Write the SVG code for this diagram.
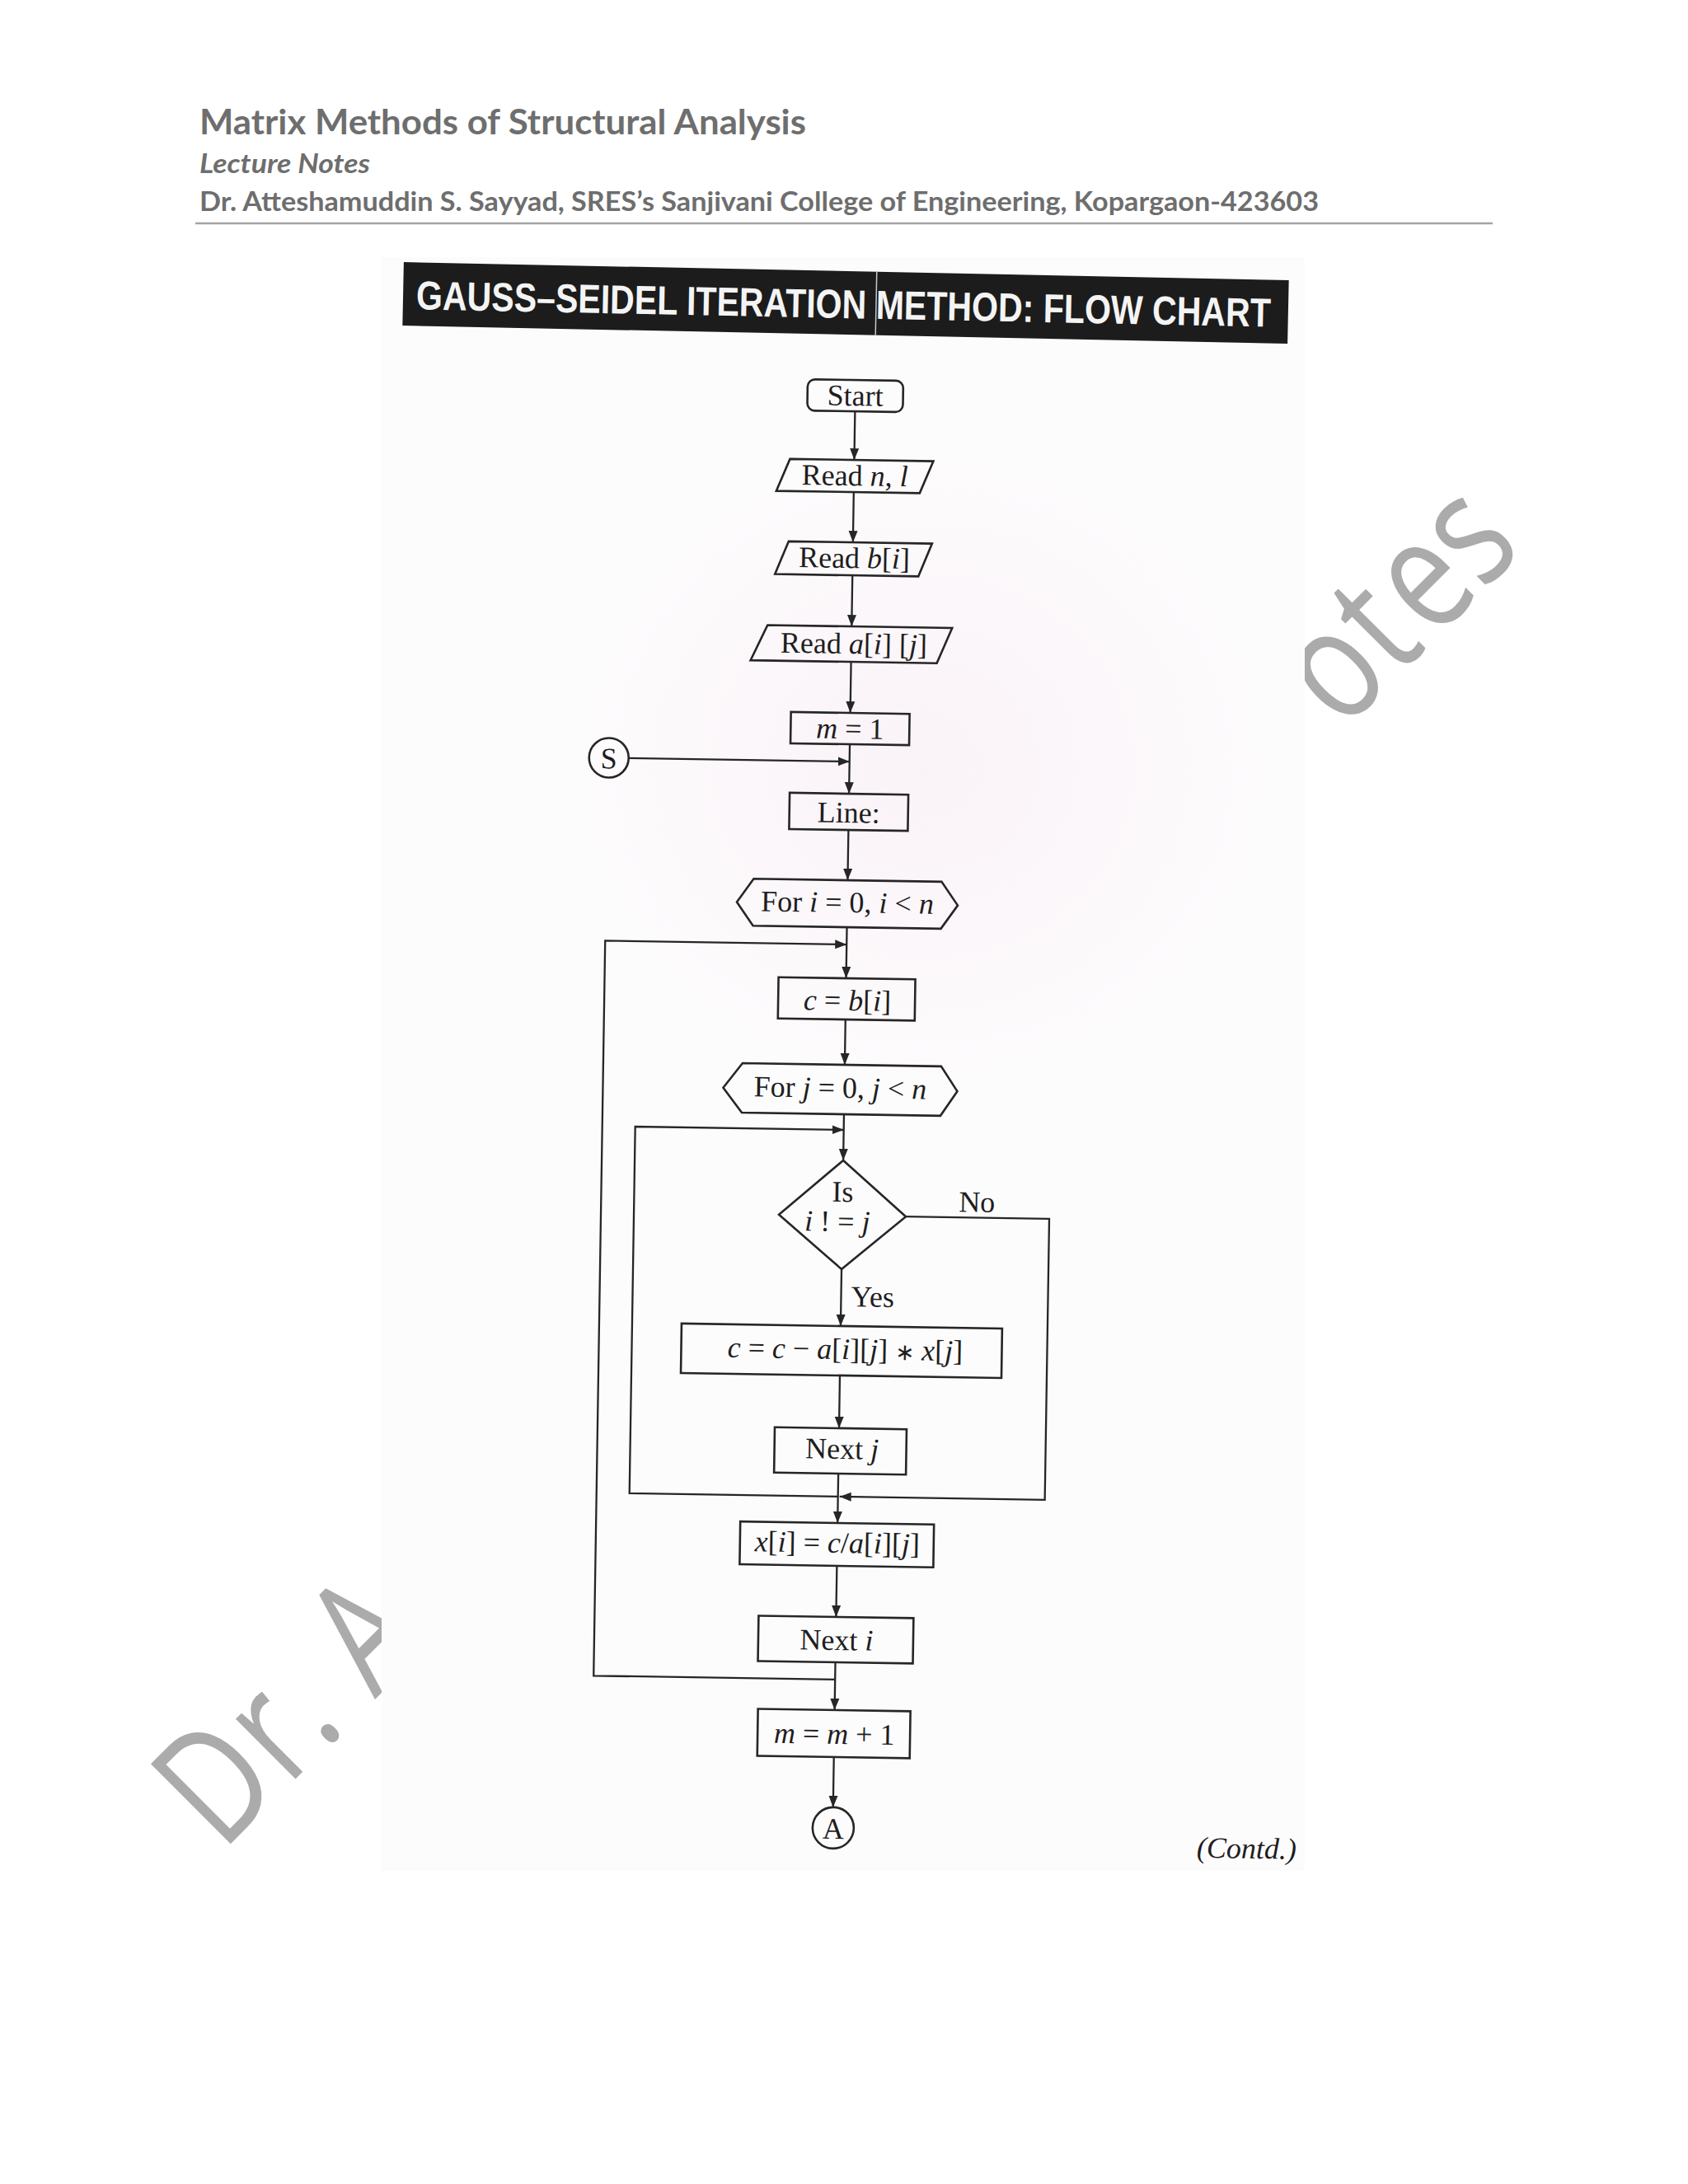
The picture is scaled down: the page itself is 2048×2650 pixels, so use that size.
<svg xmlns="http://www.w3.org/2000/svg" width="2048" height="2650" viewBox="0 0 2048 2650">
<defs>
<style>
.hd{font-family:Lato,"Open Sans","Liberation Sans",sans-serif;font-weight:bold;fill:#6e6e6e}
.wm{font-family:"Open Sans","Liberation Sans",sans-serif;font-size:192px;fill:#ababab}
.n{fill:none;stroke:#262626;stroke-width:2.6}
.c{fill:none;stroke:#262626;stroke-width:2.3}
.a{marker-end:url(#ah)}
.t{font-family:"Liberation Serif","Times New Roman",serif;font-size:36px;fill:#1e1e1e;text-anchor:middle}
.s{text-anchor:start}
.i{font-style:italic}
</style>
<marker id="ah" markerUnits="userSpaceOnUse" markerWidth="15" markerHeight="12" refX="14" refY="6" orient="auto">
<path d="M0,0.5 L14,6 L0,11.5 Z" fill="#262626"/>
</marker>
<radialGradient id="pk" cx="0.5" cy="0.5" r="0.5">
<stop offset="0" stop-color="#f8ecf3" stop-opacity="0.6"/>
<stop offset="1" stop-color="#f8ecf3" stop-opacity="0"/>
</radialGradient>
</defs>
<rect x="0" y="0" width="2048" height="2650" fill="#ffffff"/>

<g id="header">
<text class="hd" x="242" y="163" font-size="42" textLength="736" lengthAdjust="spacingAndGlyphs">Matrix Methods of Structural Analysis</text>
<text class="hd" x="242" y="210" font-size="32" font-style="italic" textLength="207" lengthAdjust="spacingAndGlyphs">Lecture Notes</text>
<text class="hd" x="242" y="256" font-size="33" textLength="1358" lengthAdjust="spacingAndGlyphs">Dr. Atteshamuddin S. Sayyad, SRES’s Sanjivani College of Engineering, Kopargaon-423603</text>
<line x1="237" y1="271" x2="1811" y2="271" stroke="#a3a3a3" stroke-width="2.5"/>
</g>

<g id="watermark">
<text class="wm" transform="translate(269.6,2247.4) rotate(-45) scale(0.78,1)" x="0 145 224 262 336">Dr. A</text>
<text class="wm" transform="translate(1629,888) rotate(-45) scale(0.78,1)" x="0 119 201 309">otes</text>
</g>

<g id="scan">
<rect x="463" y="312" width="1120" height="1958" fill="#fdfcfd"/>
<ellipse cx="1120" cy="930" rx="440" ry="400" fill="url(#pk)"/>
</g>

<g id="banner" transform="rotate(1.17 1026 367.5)">
<rect x="489" y="329" width="1074" height="77" fill="#1c1c1c"/>
<line x1="1063" y1="329" x2="1063" y2="406" stroke="#c8c8c8" stroke-width="1.5"/>
<text x="505" y="386" font-family="'Liberation Sans Narrow','Liberation Sans',Arial,sans-serif" font-weight="bold" font-size="49" fill="#f4f4f4" textLength="1037" lengthAdjust="spacingAndGlyphs">GAUSS–SEIDEL ITERATION METHOD: FLOW CHART</text>
</g>

<g id="flowchart" transform="rotate(0.9 1024 1350)">
<g id="connectors">
<path class="c a" d="M1024,499 V558"/>
<path class="c a" d="M1024,597 V658"/>
<path class="c a" d="M1024,698 V760"/>
<path class="c a" d="M1024,803 V865"/>
<path class="c a" d="M1024,903 V963"/>
<path class="c a" d="M756,924 H1024"/>
<path class="c a" d="M1024,1007 V1068"/>
<path class="c a" d="M1024,1125 V1187"/>
<path class="c a" d="M1024,2038 H731 V1146 H1024"/>
<path class="c a" d="M1024,1237 V1292"/>
<path class="c a" d="M1024,1352 V1408"/>
<path class="c a" d="M1024,1816 H771 V1371 H1024"/>
<path class="c a" d="M1101,1475 H1275 V1816 H1026"/>
<path class="c a" d="M1024,1540 V1609"/>
<path class="c a" d="M1024,1669 V1733"/>
<path class="c a" d="M1024,1788 V1848"/>
<path class="c a" d="M1024,1900 V1962"/>
<path class="c a" d="M1024,2017 V2075"/>
<path class="c a" d="M1024,2132 V2193"/>
<text class="t s" x="1165" y="1468">No</text>
<text class="t s" x="1036" y="1585">Yes</text>
</g>

<g id="start"><rect class="n" x="966" y="461" width="116" height="38" rx="9"/><text class="t" x="1024" y="492">Start</text></g>
<g id="read_n"><polygon class="n" points="946,558 1120,558 1104,597 930,597"/><text class="t" x="1025" y="589">Read <tspan class="i">n</tspan>, <tspan class="i">l</tspan></text></g>
<g id="read_b"><polygon class="n" points="946,658 1120,658 1104,698 930,698"/><text class="t" x="1026" y="689">Read <tspan class="i">b</tspan>[<tspan class="i">i</tspan>]</text></g>
<g id="read_a"><polygon class="n" points="922,760 1146,760 1128,803 902,803"/><text class="t" x="1027" y="793">Read <tspan class="i">a</tspan>[<tspan class="i">i</tspan>] [<tspan class="i">j</tspan>]</text></g>
<g id="m1"><rect class="n" x="952" y="865" width="144" height="38"/><text class="t" x="1024" y="896"><tspan class="i">m</tspan> = 1</text></g>
<g id="s_conn"><circle class="n" cx="732" cy="924" r="24"/><text class="t" x="732" y="937">S</text></g>
<g id="line"><rect class="n" x="952" y="963" width="144" height="44"/><text class="t" x="1024" y="998">Line:</text></g>
<g id="for_i"><polygon class="n" points="890,1096.5 910,1068 1138,1068 1158,1096.5 1138,1125 910,1125"/><text class="t" x="1024" y="1107">For <tspan class="i">i</tspan> = 0, <tspan class="i">i</tspan> &lt; <tspan class="i">n</tspan></text></g>
<g id="c_b"><rect class="n" x="942" y="1187" width="166" height="50"/><text class="t" x="1026" y="1226"><tspan class="i">c</tspan> = <tspan class="i">b</tspan>[<tspan class="i">i</tspan>]</text></g>
<g id="for_j"><polygon class="n" points="877,1322 900,1292 1141,1292 1161,1322 1141,1352 900,1352"/><text class="t" x="1019" y="1332">For <tspan class="i">j</tspan> = 0, <tspan class="i">j</tspan> &lt; <tspan class="i">n</tspan></text></g>
<g id="decision"><polygon class="n" points="1024,1408 1101,1475 1024,1540 947,1475"/><text class="t" x="1024" y="1458">Is</text><text class="t" x="1018" y="1494"><tspan class="i">i</tspan> ! = <tspan class="i">j</tspan></text></g>
<g id="c_update"><rect class="n" x="831" y="1609" width="389" height="60"/><text class="t" x="1030" y="1649"><tspan class="i">c</tspan> = <tspan class="i">c</tspan> − <tspan class="i">a</tspan>[<tspan class="i">i</tspan>][<tspan class="i">j</tspan>] <tspan font-size="28">∗</tspan> <tspan class="i">x</tspan>[<tspan class="i">j</tspan>]</text></g>
<g id="next_j"><rect class="n" x="946" y="1733" width="160" height="55"/><text class="t" x="1028" y="1770">Next <tspan class="i">j</tspan></text></g>
<g id="x_i"><rect class="n" x="906" y="1848" width="235" height="52"/><text class="t" x="1024" y="1884"><tspan class="i">x</tspan>[<tspan class="i">i</tspan>] = <tspan class="i">c</tspan>/<tspan class="i">a</tspan>[<tspan class="i">i</tspan>][<tspan class="i">j</tspan>]</text></g>
<g id="next_i"><rect class="n" x="930" y="1962" width="188" height="55"/><text class="t" x="1025" y="2002">Next <tspan class="i">i</tspan></text></g>
<g id="m_inc"><rect class="n" x="931" y="2075" width="185" height="57"/><text class="t" x="1024" y="2116"><tspan class="i">m</tspan> = <tspan class="i">m</tspan> + 1</text></g>
<g id="a_conn"><circle class="n" cx="1024.5" cy="2218" r="25"/><text class="t" x="1024.5" y="2231">A</text></g>
<text class="t s i" x="1466" y="2247">(Contd.)</text>
</g>
</svg>
